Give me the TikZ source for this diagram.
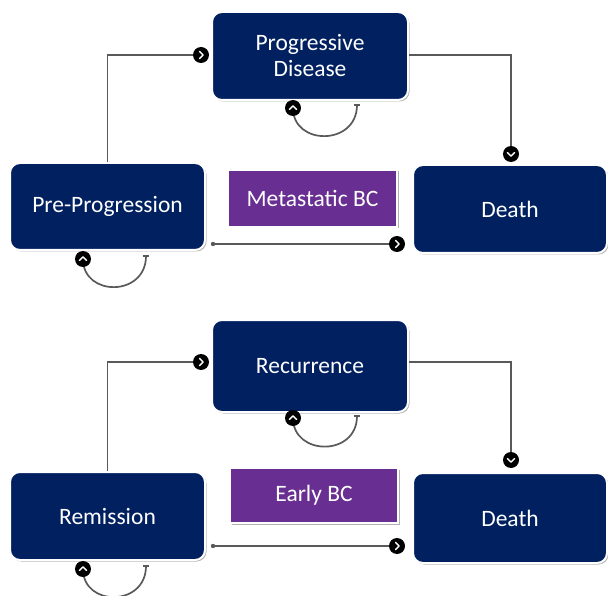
\documentclass[tikz,border=0pt]{standalone}
\usepackage{fontspec}
\setmainfont{Carlito}
\usetikzlibrary{calc,shadows}
\definecolor{navy}{RGB}{0,32,96}
\definecolor{purp}{RGB}{104,46,145}
\definecolor{lnc}{RGB}{89,89,89}
\begin{document}
\begin{tikzpicture}[x=1pt,y=-1pt,
 state/.style={rectangle, rounded corners=10pt, fill=navy, draw=white, line width=2pt, text=white, font=\fontsize{23.5}{26}\selectfont, align=center, inner sep=0pt, drop shadow={shadow xshift=1.5pt, shadow yshift=-1.5pt, fill=black, opacity=0.3}},
 tagbox/.style={rectangle, fill=purp, draw=white, line width=2pt, text=white, font=\fontsize{23.5}{26}\selectfont, inner sep=0pt, drop shadow={shadow xshift=1.5pt, shadow yshift=-1.5pt, fill=black, opacity=0.3}},
 conn/.style={draw=lnc, line width=1.7pt},
 chev/.pic={\fill[black] (0,0) circle (8); \draw[white, line width=1.4pt, line cap=round, line join=round] (-1.5,-3.7) -- (2.2,0) -- (-1.5,3.7);}
]
\fill[white] (0,0) rectangle (608,596);
\useasboundingbox (0,0) rectangle (608,596);

% ---------- top: Metastatic BC ----------
\node[state, minimum width=196, minimum height=88] (pd) at (310,56) {Progressive\\Disease};
\node[state, minimum width=195, minimum height=87] (pp) at (107.5,206.5) {Pre-Progression};
\node[state, minimum width=194, minimum height=88] (d1) at (510,209) {Death};
\node[tagbox, minimum width=169, minimum height=57] (mbc) at (312.5,198.5) {Metastatic BC};

\coordinate (m1) at ($(pd.west)+(-10,-1)$);
\draw[conn] (pp.north) |- (m1);
\pic at (m1) {chev};
\coordinate (m2) at ($(d1.north)+(1,-10)$);
\draw[conn] ($(pd.east)+(0,-1)$) -| (m2);
\pic[rotate=-90] at (m2) {chev};
\coordinate (s3) at ($(pp.south east)+(7,-7)$);
\coordinate (m3) at ($(d1.west|-s3)+(-15,0)$);
\fill[lnc] (s3) circle (2.2);
\draw[conn] (s3) -- (m3);
\pic at (m3) {chev};

% self loops
\coordinate (l1s) at ($(pp.south)+(38.5,5)$);
\coordinate (l1e) at ($(pp.south)+(-24.5,8)$);
\draw[conn] (l1s) .. controls ($(l1s)+(0,41)$) and ($(l1e)+(0,38)$) .. (l1e);
\draw[conn] ($(l1s)+(-3,0)$) -- ($(l1s)+(3,0)$);
\pic[rotate=90] at (l1e) {chev};

\coordinate (l2s) at ($(pd.south)+(47,4)$);
\coordinate (l2e) at ($(pd.south)+(-17,7)$);
\draw[conn] (l2s) .. controls ($(l2s)+(0,41)$) and ($(l2e)+(0,38)$) .. (l2e);
\draw[conn] ($(l2s)+(-3,0)$) -- ($(l2s)+(3,0)$);
\pic[rotate=90] at (l2e) {chev};

% ---------- bottom: Early BC ----------
\node[state, minimum width=196, minimum height=92] (rc) at (310,366) {Recurrence};
\node[state, minimum width=195, minimum height=88] (rm) at (107.5,516) {Remission};
\node[state, minimum width=194, minimum height=90] (d2) at (510,518) {Death};
\node[tagbox, minimum width=168, minimum height=55] (ebc) at (314,495.5) {Early BC};

\coordinate (n1) at ($(rc.west)+(-10,-4)$);
\draw[conn] (rm.north) |- (n1);
\pic at (n1) {chev};
\coordinate (n2) at ($(d2.north)+(1,-12)$);
\draw[conn] ($(rc.east)+(0,-4)$) -| (n2);
\pic[rotate=-90] at (n2) {chev};
\coordinate (t3) at ($(rm.south east)+(7,-15)$);
\coordinate (n3) at ($(d2.west|-t3)+(-15,0)$);
\fill[lnc] (t3) circle (2.2);
\draw[conn] (t3) -- (n3);
\pic at (n3) {chev};

\coordinate (k1s) at ($(rm.south)+(38.5,5)$);
\coordinate (k1e) at ($(rm.south)+(-24.5,8)$);
\draw[conn] (k1s) .. controls ($(k1s)+(0,41)$) and ($(k1e)+(0,38)$) .. (k1e);
\draw[conn] ($(k1s)+(-3,0)$) -- ($(k1s)+(3,0)$);
\pic[rotate=90] at (k1e) {chev};

\coordinate (k2s) at ($(rc.south)+(47,3)$);
\coordinate (k2e) at ($(rc.south)+(-17,5)$);
\draw[conn] (k2s) .. controls ($(k2s)+(0,41)$) and ($(k2e)+(0,38)$) .. (k2e);
\draw[conn] ($(k2s)+(-3,0)$) -- ($(k2s)+(3,0)$);
\pic[rotate=90] at (k2e) {chev};
\end{tikzpicture}
\end{document}
